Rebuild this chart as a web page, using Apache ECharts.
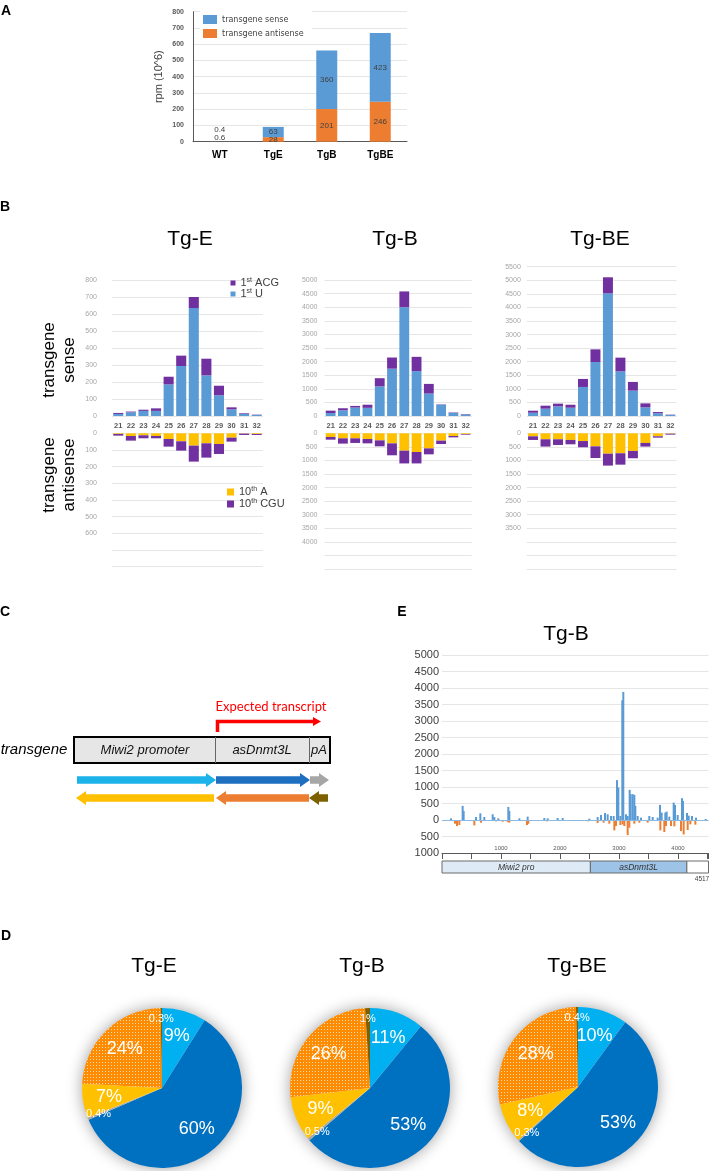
<!DOCTYPE html>
<html><head><meta charset="utf-8">
<script src="https://cdn.jsdelivr.net/npm/echarts@6/dist/echarts.min.js"></script>
<style>html,body{margin:0;padding:0;background:#fff}#c{width:715px;height:1171px}</style>
</head><body><div id="c"></div>
<script>
const LS = '"Liberation Sans", Arial, sans-serif';
// ---------- Panel A ----------
const catsA = ['WT', 'TgE', 'TgB', 'TgBE'];
const senseA = [0.4, 63, 360, 423];
const antisenseA = [0.6, 28, 201, 246];
// ---------- Panel B ----------
const lengths = ['21','22','23','24','25','26','27','28','29','30','31','32'];
const tgE_U   = [12, 22, 30, 30, 186, 294, 635, 239, 122, 39, 12, 6];
const tgE_ACG = [6, 4, 7, 15, 45, 61, 65, 98, 56, 12, 4, 2];
const tgE_A   = [4, 16, 12, 16, 34, 48, 74, 60, 64, 26, 2, 4];
const tgE_CGU = [10, 28, 18, 14, 46, 56, 96, 86, 60, 24, 8, 6];
const tgB_U   = [110, 210, 310, 300, 1090, 1740, 4000, 1650, 825, 420, 115, 55];
const tgB_ACG = [87, 75, 60, 115, 300, 410, 580, 525, 355, 10, 15, 15];
const tgB_A   = [135, 185, 185, 210, 260, 370, 640, 690, 555, 270, 100, 25];
const tgB_CGU = [100, 195, 170, 160, 220, 440, 470, 420, 220, 125, 50, 25];
const tgBE_U   = [120, 270, 355, 305, 1070, 1990, 4520, 1645, 935, 320, 100, 37];
const tgBE_ACG = [75, 110, 100, 110, 295, 465, 590, 505, 320, 145, 45, 12];
const tgBE_A   = [110, 220, 220, 245, 285, 480, 750, 735, 650, 355, 110, 15];
const tgBE_CGU = [135, 270, 210, 160, 230, 430, 440, 420, 270, 135, 50, 35];
// ---------- Panel D ----------
const pieNames = ['sense Miwi2 promoter', 'sense asDnmt3L', 'sense pA', 'antisense Miwi2 promoter', 'antisense asDnmt3L', 'antisense pA'];
const pieTgE  = [9, 60, 0.4, 7, 24, 0.3];
const pieTgB  = [11, 53, 0.5, 9, 26, 1];
const pieTgBE = [10, 53, 0.3, 8, 28, 0.4];
// ---------- Panel E ----------
const eSensePos = [153,350,367,576,650,717,859,887,955,1124,1141,1311,1452,1734,1791,1960,2045,2497,2638,2695,2763,2808,2864,2910,2966,2989,3023,3056,3073,3119,3147,3181,3198,3232,3260,3277,3316,3373,3514,3571,3655,3695,3723,3785,3808,3853,3927,3949,3994,4068,4085,4153,4181,4237,4305,4470];
const eSenseVal = [51,427,274,91,203,91,173,91,51,396,274,51,102,61,51,61,61,41,91,152,213,173,122,122,1209,986,122,3628,3882,173,122,915,783,783,762,427,122,71,122,91,71,457,224,224,254,102,528,457,152,661,579,213,132,122,71,30];
const eAntiPos = [220,254,294,548,661,915,1028,1113,1141,1441,1463,1780,2469,2638,2740,2836,2921,2949,3023,3062,3090,3147,3175,3260,3345,3486,3701,3768,3797,3881,3938,4051,4096,4164,4209,4294];
const eAntiVal = [-112,-183,-150,-163,-81,-41,-51,-61,-81,-152,-112,-41,-41,-91,-81,-112,-315,-183,-152,-132,-183,-457,-234,-112,-81,-81,-315,-366,-183,-183,-193,-335,-437,-305,-132,-142];
const eRegions = [[0, 2515, -1000], [2515, 4150, -1000], [4150, 4517, -1000]];
const eRegionNames = ['Miwi2 pro', 'asDnmt3L', ''];
const eLength = 4517;

const regionFill = ['#deebf7', '#9dc3e6', '#ffffff'];
const pieColors = ['#00b0f0', '#0070c0', '#a5a5a5', '#ffc000', '#ff8c00', '#7f6000'];
const pieCenters = [[162, 1088], [370, 1088], [578, 1087]];
const pieR = 80;

const chart = echarts.init(document.getElementById('c'), null, {renderer: 'canvas'});

function txt(x, y, text, font, fill, rot, align) {
  return {type: 'text', x: x, y: y, rotation: rot || 0, silent: true, z: 10,
    style: {text: text, font: font, fill: fill || '#000', textAlign: align || 'center', textVerticalAlign: 'middle', align: align || 'center', verticalAlign: 'middle'}};
}
function arrowR(x1, x2, y, color) {
  return {type: 'polygon', silent: true, shape: {points: [[x1, y - 3.8], [x2 - 10, y - 3.8], [x2 - 10, y - 7], [x2, y], [x2 - 10, y + 7], [x2 - 10, y + 3.8], [x1, y + 3.8]]}, style: {fill: color}};
}
function arrowL(x1, x2, y, color) {
  return {type: 'polygon', silent: true, shape: {points: [[x2, y - 3.8], [x1 + 10, y - 3.8], [x1 + 10, y - 7], [x1, y], [x1 + 10, y + 7], [x1 + 10, y + 3.8], [x2, y + 3.8]]}, style: {fill: color}};
}

const grids = [
  {left: 193, top: 11.7, width: 214, height: 130},     // A
  {left: 112, top: 280, width: 151, height: 136},      // B Tg-E sense
  {left: 324.5, top: 280, width: 147.3, height: 136},  // B Tg-B sense
  {left: 526.8, top: 266.7, width: 149.8, height: 149.3}, // B Tg-BE sense
  {left: 112, top: 433.3, width: 151, height: 133.3},  // B Tg-E antisense
  {left: 324.5, top: 433.3, width: 147.3, height: 135.7},
  {left: 526.8, top: 433.3, width: 149.8, height: 135.7},
  {left: 442, top: 655, width: 266.5, height: 198}     // E
].map(g => Object.assign({outerBoundsMode: 'none', containLabel: false}, g));

const bLabel = {fontSize: 7, color: '#a6a6a6', fontFamily: LS};
const split = {show: true, lineStyle: {color: '#e6e6e6', width: 1}};

const xAxis = [
  {gridIndex: 0, type: 'category', data: catsA, axisTick: {show: false},
   axisLine: {show: true, onZero: false, lineStyle: {color: '#595959'}},
   axisLabel: {interval: 0, fontSize: 10, fontWeight: 'bold', color: '#000', margin: 9, fontFamily: LS}}
];
[1, 2, 3].forEach(i => xAxis.push({gridIndex: i, type: 'category', data: lengths,
  axisLine: {show: false}, axisTick: {show: false},
  axisLabel: {interval: 0, fontSize: 7.5, fontWeight: 'bold', color: '#595959', margin: 6, fontFamily: LS}}));
[4, 5, 6].forEach(i => xAxis.push({gridIndex: i, type: 'category', data: lengths, show: false}));
xAxis.push({gridIndex: 7, type: 'value', min: 0, max: eLength, interval: 1000,
  axisLine: {show: true, onZero: false, lineStyle: {color: '#595959'}},
  axisTick: {show: true, inside: false, length: 6, lineStyle: {color: '#595959'}},
  minorTick: {show: true, splitNumber: 2, length: 6, lineStyle: {color: '#595959'}},
  splitLine: {show: false},
  axisLabel: {inside: true, margin: 1.5, fontSize: 6, color: '#595959', fontFamily: LS, showMaxLabel: false,
    formatter: v => (v === 0 || v > 4500) ? '' : String(v)}});

function bAxis(gi, max, interval, margin, inverse, labelMax) {
  return {gridIndex: gi, type: 'value', min: 0, max: max, interval: interval, inverse: inverse,
    axisLine: {show: false}, axisTick: {show: false}, splitLine: split,
    axisLabel: Object.assign({margin: margin, formatter: v => v > labelMax ? '' : String(v)}, bLabel)};
}
const yAxis = [
  {gridIndex: 0, type: 'value', min: 0, max: 800, interval: 100,
   name: 'rpm (10^6)', nameLocation: 'middle', nameGap: 29, nameRotate: 90,
   nameTextStyle: {fontSize: 11, color: '#404040', fontFamily: LS},
   axisLine: {show: true, lineStyle: {color: '#595959'}}, axisTick: {show: false},
   axisLabel: {fontSize: 7, fontWeight: 'bold', color: '#595959', margin: 9, fontFamily: LS},
   splitLine: split},
  bAxis(1, 800, 100, 15, false, 800),
  bAxis(2, 5000, 500, 7, false, 5000),
  bAxis(3, 5500, 500, 6, false, 5500),
  bAxis(4, 800, 100, 15, true, 600),
  bAxis(5, 5000, 500, 7, true, 4000),
  bAxis(6, 5000, 500, 6, true, 3500),
  {gridIndex: 7, type: 'value', min: -1000, max: 5000, interval: 500,
   axisLine: {show: false}, axisTick: {show: false}, splitLine: split,
   axisLabel: {fontSize: 11, color: '#404040', margin: 3, fontFamily: LS, formatter: v => String(Math.abs(v))}}
];

const series = [];
// A
series.push({type: 'bar', name: 'transgene antisense', xAxisIndex: 0, yAxisIndex: 0, stack: 'A', barWidth: 21,
  itemStyle: {color: '#ed7d31'}, silent: true,
  label: {show: true, position: 'inside', fontSize: 8, color: '#404040', fontFamily: LS},
  data: antisenseA.map((v, i) => i === 0 ? {value: v, label: {position: 'top', distance: 0}} : v)});
series.push({type: 'bar', name: 'transgene sense', xAxisIndex: 0, yAxisIndex: 0, stack: 'A', barWidth: 21,
  itemStyle: {color: '#5b9bd5'}, silent: true,
  label: {show: true, position: 'inside', fontSize: 8, color: '#404040', fontFamily: LS},
  data: senseA.map((v, i) => i === 0 ? {value: v, label: {position: 'top', distance: 8}} : v)});
// B
const bSets = [[tgE_U, tgE_ACG, tgE_A, tgE_CGU], [tgB_U, tgB_ACG, tgB_A, tgB_CGU], [tgBE_U, tgBE_ACG, tgBE_A, tgBE_CGU]];
bSets.forEach((s, k) => {
  const si = 1 + k, ai = 4 + k;
  series.push({type: 'bar', name: '1st U', xAxisIndex: si, yAxisIndex: si, stack: 'sense' + k, barWidth: '80%', data: s[0], itemStyle: {color: '#5b9bd5'}, silent: true});
  series.push({type: 'bar', name: '1st ACG', xAxisIndex: si, yAxisIndex: si, stack: 'sense' + k, barWidth: '80%', data: s[1], itemStyle: {color: '#7030a0'}, silent: true});
  series.push({type: 'bar', name: '10th A', xAxisIndex: ai, yAxisIndex: ai, stack: 'anti' + k, barWidth: '80%', data: s[2], itemStyle: {color: '#ffc000'}, silent: true});
  series.push({type: 'bar', name: '10th CGU', xAxisIndex: ai, yAxisIndex: ai, stack: 'anti' + k, barWidth: '80%', data: s[3], itemStyle: {color: '#7030a0'}, silent: true});
});
// E
series.push({type: 'bar', name: 'E sense', xAxisIndex: 7, yAxisIndex: 7, barWidth: 2, barGap: '-100%', silent: true,
  itemStyle: {color: '#5b9bd5'}, data: eSensePos.map((p, i) => [p, eSenseVal[i]]),
  markLine: {silent: true, symbol: 'none', label: {show: false}, lineStyle: {color: '#8db8e2', width: 1, type: 'solid'}, data: [{yAxis: 0}]}});
series.push({type: 'bar', name: 'E antisense', xAxisIndex: 7, yAxisIndex: 7, barWidth: 2, barGap: '-100%', silent: true,
  itemStyle: {color: '#ed7d31'}, data: eAntiPos.map((p, i) => [p, eAntiVal[i]])});
series.push({type: 'custom', name: 'E regions', xAxisIndex: 7, yAxisIndex: 7, clip: false, silent: true,
  encode: {x: [0, 1], y: 2}, data: eRegions,
  renderItem: function (params, api) {
    const p0 = api.coord([api.value(0), api.value(2)]);
    const p1 = api.coord([api.value(1), api.value(2)]);
    const y = p0[1] + 8, h = 12;
    const name = eRegionNames[params.dataIndex];
    return {type: 'group', children: [
      {type: 'rect', shape: {x: p0[0], y: y, width: p1[0] - p0[0], height: h}, style: {fill: regionFill[params.dataIndex], stroke: '#6b6b6b', lineWidth: 1}},
      {type: 'text', style: {text: name, x: (p0[0] + p1[0]) / 2, y: y + h / 2 + 0.5, textAlign: 'center', textVerticalAlign: 'middle', align: 'center', verticalAlign: 'middle', font: 'italic 8.5px ' + LS, fill: '#333'}}
    ]};
  }});
// D
const dotDecal = {symbol: 'rect', symbolSize: 1, color: 'rgba(255,255,255,0.7)', dashArrayX: [1, 2], dashArrayY: [1, 2]};
function pieLayout(k, vals) {
  const c = pieCenters[k];
  return function (p) {
    const r = p.labelRect;
    const lx = r.x + r.width / 2, ly = r.y + r.height / 2;
    const dx0 = lx - c[0], dy0 = ly - c[1];
    const d = Math.hypot(dx0, dy0) || 1;
    const target = (vals[p.dataIndex] >= 2 ? 0.67 : 0.86) * pieR;
    return {dx: dx0 / d * target - dx0, dy: dy0 / d * target - dy0};
  };
}
[pieTgE, pieTgB, pieTgBE].forEach((vals, k) => {
  series.push({type: 'pie', name: 'pie' + k, center: pieCenters[k], radius: pieR, startAngle: 90, clockwise: true,
    silent: true, avoidLabelOverlap: false, labelLine: {show: false}, z: 3,
    label: {show: true, position: 'inside', color: '#fff', fontFamily: LS, formatter: p => p.value + '%'},
    labelLayout: pieLayout(k, vals),
    data: vals.map((v, i) => ({name: pieNames[i], value: v,
      itemStyle: Object.assign({color: pieColors[i]}, i === 4 ? {decal: dotDecal} : {}),
      label: {fontSize: v < 2 ? 11 : 18}}))});
});

const supFmt = {'1st ACG': '1{s|st} ACG', '1st U': '1{s|st} U', '10th A': '10{s|th} A', '10th CGU': '10{s|th} CGU'};
const legend = [
  {data: ['transgene sense', 'transgene antisense'], orient: 'vertical', left: 200, top: 10, itemWidth: 14, itemHeight: 9, itemGap: 5,
   padding: [5, 8, 5, 3], backgroundColor: '#fff', selectedMode: false, icon: 'rect',
   textStyle: {fontSize: 8, color: '#404040', fontFamily: '"DejaVu Sans", sans-serif'}},
  {data: ['1st ACG', '1st U'], orient: 'vertical', left: 230.5, top: 277, itemWidth: 5, itemHeight: 5, itemGap: -1,
   padding: 0, selectedMode: false, icon: 'rect', formatter: n => supFmt[n],
   textStyle: {fontSize: 11, lineHeight: 12, color: '#404040', fontFamily: LS, rich: {s: {fontSize: 7, lineHeight: 12, verticalAlign: 'top', color: '#404040', fontFamily: LS}}}},
  {data: ['10th A', '10th CGU'], orient: 'vertical', left: 227, top: 486, itemWidth: 7, itemHeight: 7, itemGap: 0,
   padding: 0, selectedMode: false, icon: 'rect', formatter: n => supFmt[n],
   textStyle: {fontSize: 11, lineHeight: 12, color: '#404040', fontFamily: LS, rich: {s: {fontSize: 7, lineHeight: 12, verticalAlign: 'top', color: '#404040', fontFamily: LS}}}}
];

const bold = 'bold 14px ' + LS;
const title = '21px ' + LS;
const graphic = [];
pieCenters.forEach(c => graphic.push({type: 'circle', silent: true, z: 1, shape: {cx: c[0], cy: c[1], r: pieR - 0.5}, style: {fill: '#ffffff', shadowBlur: 16, shadowColor: 'rgba(0,0,0,0.4)'}}));
graphic.push(
  txt(6, 11, 'A', bold), txt(5, 207, 'B', bold), txt(5, 612, 'C', bold), txt(6, 936, 'D', bold), txt(402, 612, 'E', bold),
  txt(190, 239, 'Tg-E', title), txt(395, 239, 'Tg-B', title), txt(600, 239, 'Tg-BE', title),
  txt(49, 360, 'transgene', '17px ' + LS, '#000', Math.PI / 2), txt(69, 360, 'sense', '17px ' + LS, '#000', Math.PI / 2),
  txt(49, 475, 'transgene', '17px ' + LS, '#000', Math.PI / 2), txt(69, 475, 'antisense', '17px ' + LS, '#000', Math.PI / 2),
  // Panel C
  {type: 'rect', silent: true, shape: {x: 74, y: 737, width: 256, height: 26}, style: {fill: '#e7e6e6', stroke: '#000', lineWidth: 2}},
  {type: 'line', silent: true, shape: {x1: 215.5, y1: 737, x2: 215.5, y2: 763}, style: {stroke: '#666', lineWidth: 1}},
  {type: 'line', silent: true, shape: {x1: 309.5, y1: 737, x2: 309.5, y2: 763}, style: {stroke: '#666', lineWidth: 1}},
  txt(34, 750, 'transgene', 'italic 15px ' + LS),
  txt(145, 750, 'Miwi2 promoter', 'italic 13px ' + LS, '#111'),
  txt(262, 750, 'asDnmt3L', 'italic 13px ' + LS, '#111'),
  txt(319, 750, 'pA', 'italic 13px ' + LS, '#111'),
  txt(271, 707, 'Expected transcript', '13px Lato, ' + LS, '#ff0000'),
  {type: 'polyline', silent: true, shape: {points: [[217.5, 732], [217.5, 721.5], [314, 721.5]]}, style: {stroke: '#ff0000', lineWidth: 3.5, fill: null}},
  {type: 'polygon', silent: true, shape: {points: [[313, 717], [321, 721.5], [313, 726]]}, style: {fill: '#ff0000'}},
  arrowR(77, 216, 780, '#1cb3ea'), arrowR(216, 310, 780, '#1f6fc0'), arrowR(310, 329, 780, '#a6a6a6'),
  arrowL(76, 214, 798, '#ffc000'), arrowL(216, 309, 798, '#ed7d31'), arrowL(309, 328, 798, '#7f6000'),
  // Panel E
  txt(566, 634, 'Tg-B', title),
  txt(702, 879, '4517', '6.5px ' + LS, '#404040'),
  // Panel D
  txt(154, 966, 'Tg-E', title), txt(362, 966, 'Tg-B', title), txt(577, 966, 'Tg-BE', title)
);

chart.setOption({
  animation: false,
  backgroundColor: '#fff',
  textStyle: {fontFamily: LS},
  grid: grids, xAxis: xAxis, yAxis: yAxis, legend: legend, series: series,
  graphic: {elements: graphic}
});
</script></body></html>
